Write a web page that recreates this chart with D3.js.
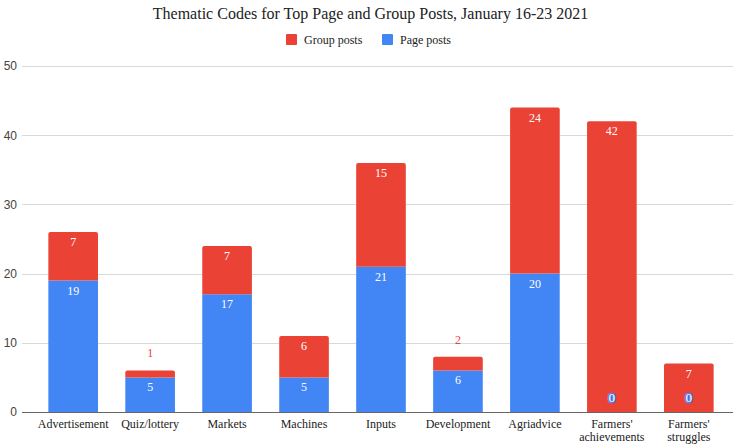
<!DOCTYPE html>
<html><head><meta charset="utf-8">
<script src="https://cdn.jsdelivr.net/npm/d3@7"></script>
<style>body{margin:0;background:#fff}
.serif{font-family:"Liberation Serif","DejaVu Serif",serif}
.sans{font-family:"Liberation Sans",Arial,sans-serif}
</style>
</head><body>
<svg id="c" width="741" height="444"></svg>
<script>
const categories = ["Advertisement","Quiz/lottery","Markets","Machines","Inputs","Development","Agriadvice","Farmers' achievements","Farmers' struggles"];
const pagePosts = [19,5,17,5,21,6,20,0,0];
const groupPosts = [7,1,7,6,15,2,24,42,7];
const yTicks = [0,10,20,30,40,50];
const seriesNames = ["Group posts","Page posts"];
const colors = {"Group posts":"#ea4335","Page posts":"#4285f4"};

const svg = d3.select("#c");
const W = 741, H = 444;
const gridL = 22, gridR = 733;
const x = d3.scaleBand().domain(categories).range([34.5, 727.5]).paddingInner(0.355).paddingOuter(0.18);
const y = d3.scaleLinear().domain([0,50]).range([412,66]);

// title
svg.append("text").attr("class","serif").attr("x", W/2).attr("y", 19).attr("text-anchor","middle")
  .attr("font-size", 16).attr("fill","#222")
  .text("Thematic Codes for Top Page and Group Posts, January 16-23 2021");

// legend
const leg = [{n:"Group posts", x:286},{n:"Page posts", x:382}];
leg.forEach(l=>{
  svg.append("rect").attr("x", l.x).attr("y", 34).attr("width", 11).attr("height", 11).attr("rx",1).attr("fill", colors[l.n]);
  svg.append("text").attr("class","serif").attr("x", l.x+18).attr("y", 44).attr("font-size", 12).attr("fill","#222").text(l.n);
});

// grid
svg.append("g").selectAll("line").data(yTicks.filter(d=>d>0)).join("line")
  .attr("x1", gridL).attr("x2", gridR).attr("y1", d=>Math.round(y(d))+0.5).attr("y2", d=>Math.round(y(d))+0.5)
  .attr("stroke","#d9d9d9").attr("stroke-width",1);

// y axis labels
const yAxis = d3.axisLeft(y).tickValues(yTicks).tickSize(0).tickPadding(0);
const ya = svg.append("g").attr("transform", `translate(${gridL-5},0)`).call(yAxis);
ya.select(".domain").remove();
ya.attr("font-family", null);
ya.selectAll("text").attr("class","sans").attr("font-size", 12).attr("fill","#444");

// stacked data
const rows = categories.map((c,i)=>({cat:c, "Page posts":pagePosts[i], "Group posts":groupPosts[i]}));
const stack = d3.stack().keys(["Page posts","Group posts"])(rows);

const g = svg.append("g");
stack.forEach(s=>{
  g.selectAll(null).data(s).join("path")
    .attr("fill", colors[s.key])
    .attr("d", d=>{
      const x0 = x(d.data.cat), w = x.bandwidth();
      const yt = y(d[1]), yb = y(d[0]);
      if (yb - yt <= 0) return "";
      const isTop = s.key==="Group posts" || d.data["Group posts"]===0;
      const r = isTop ? Math.min(2, (yb-yt)/2) : 0;
      return `M${x0},${yb}V${yt+r}Q${x0},${yt} ${x0+r},${yt}H${x0+w-r}Q${x0+w},${yt} ${x0+w},${yt+r}V${yb}Z`;
    });
});

// baseline
svg.append("line").attr("x1", gridL).attr("x2", gridR).attr("y1", 412.5).attr("y2", 412.5).attr("stroke","#666").attr("stroke-width",1.2);

// data labels
stack.forEach(s=>{
  s.forEach(d=>{
    const v = d.data[s.key];
    const cx = x(d.data.cat) + x.bandwidth()/2;
    const h = y(d[0]) - y(d[1]);
    const t = g.append("text").attr("class","serif").attr("x", cx).attr("text-anchor","middle")
      .attr("font-size", 12).text(v);
    if (v === 0) {
      t.attr("y", y(d[1]) - 10).attr("fill","#fff").attr("stroke", colors[s.key]).attr("stroke-width", 2.5)
        .attr("paint-order","stroke").attr("font-size", 13);
    } else if (h < 20) {
      t.attr("y", y(d[1]) - 13).attr("fill", colors[s.key]);
    } else {
      t.attr("y", y(d[1]) + 14).attr("fill", "#fff");
    }
  });
});

// x labels
const xl = svg.append("g");
categories.forEach(c=>{
  const cx = x(c) + x.bandwidth()/2;
  const parts = c.startsWith("Farmers' ") ? ["Farmers'", c.slice(9)] : [c];
  parts.forEach((p,i)=>{
    xl.append("text").attr("class","serif").attr("x", cx).attr("y", 428 + i*13).attr("text-anchor","middle")
      .attr("font-size", 12).attr("fill","#222").text(p);
  });
});
</script>
</body></html>
